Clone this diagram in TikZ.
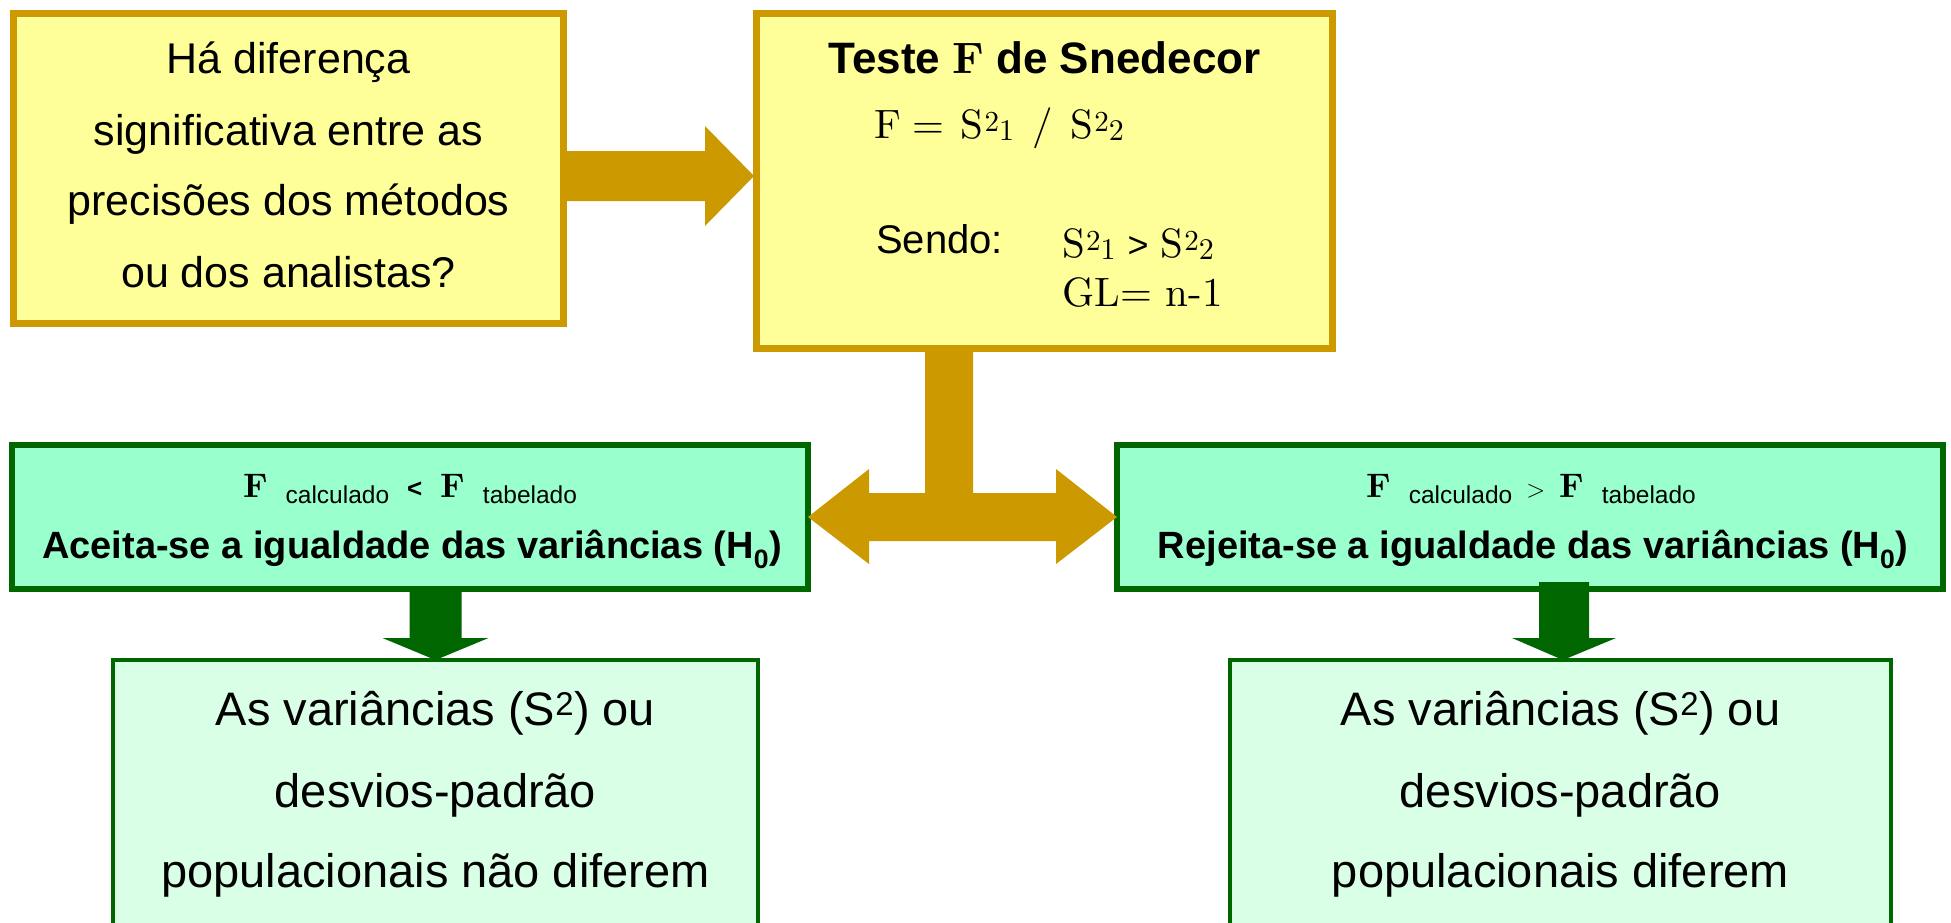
\documentclass[tikz,border=0pt]{standalone}
\usepackage{fontspec}
\newfontfamily\comic{Liberation Sans}
\newfontfamily\lmr{lmroman10-regular}[Extension=.otf,BoldFont=lmroman10-bold]
\usetikzlibrary{calc}
\definecolor{gold}{HTML}{CC9900}
\definecolor{lyellow}{HTML}{FFFF99}
\definecolor{lgreen}{HTML}{99FFCC}
\definecolor{dgreen}{HTML}{006600}
\definecolor{mint}{HTML}{D9FFE6}
\newcommand\Ssq[1]{S\hspace{1pt}\raisebox{7pt}{\fontsize{29}{29}\selectfont 2}\raisebox{-2pt}{\fontsize{30}{30}\selectfont #1}}
\newcommand\lmF{{\lmr\bfseries\fontsize{34}{34}\selectfont F}}
\newcommand\subw[1]{\raisebox{-6pt}{\comic\mdseries\fontsize{24.5}{24.5}\selectfont #1}}
\begin{document}
\begin{tikzpicture}[x=1pt,y=-1pt,
  ybox/.style={draw=gold,fill=lyellow,line width=7pt,inner sep=0pt,outer sep=0pt,rectangle},
  gbox/.style={draw=dgreen,fill=lgreen,line width=6pt,inner sep=0pt,outer sep=0pt,rectangle},
  mbox/.style={draw=dgreen,fill=mint,line width=4pt,inner sep=0pt,outer sep=0pt,rectangle},
  qtxt/.style={inner sep=0pt,anchor=base,font=\comic\fontsize{43}{43}\selectfont},
  gtxt/.style={inner sep=0pt,anchor=base,font=\comic\bfseries\fontsize{38}{38}\selectfont},
  ftxt/.style={inner sep=0pt,anchor=base},
  btxt/.style={inner sep=0pt,anchor=base,font=\comic\fontsize{47}{47}\selectfont},
  ttxt/.style={inner sep=0pt,anchor=base west,font=\lmr\fontsize{41}{41}\selectfont}]
\clip (0,0) rectangle (1951,922);
\fill[white] (0,0) rectangle (1951,922);

% boxes
\node[ybox,minimum width=550pt,minimum height=310pt] (q) at (288.5,168.5) {};
\node[ybox,minimum width=576pt,minimum height=335pt] (t) at (1044.5,181) {};
\node[gbox,minimum width=796pt,minimum height=144pt] (lg) at (410,517) {};
\node[gbox,minimum width=826pt,minimum height=144pt] (rg) at (1530,517) {};
\node[mbox,minimum width=645pt,minimum height=340pt] (lb) at (435.5,830) {};
\node[mbox,minimum width=661pt,minimum height=340pt] (rb) at (1560.5,830) {};

% block arrows
\fill[gold] ($(q.east)+(0,-17.5)$) -- ++(141.5,0) -- ++(0,-25) -- ($(t.west)+(-2.5,-5)$)
  -- ($(q.east)+(141.5,57.5)$) -- ++(0,-25) -- ($(q.east)+(0,32.5)$) -- cycle;
\fill[gold] ($(t.south)+(-119.5,0)$) -- ++(48,0) -- ++(0,144.5) -- ++(83,0) -- ++(0,-24)
  -- (rg.west) -- ++(-61,47) -- ++(0,-23) -- ++(-187,0) -- ++(0,23)
  -- (lg.east) -- ++(61,-48) -- ++(0,24) -- ++(56,0) -- cycle;
\fill[dgreen] (lb.north) -- ++(53,-22) -- ++(-27,0) -- ++(0,-49) -- ++(-52,0) -- ++(0,49) -- ++(-27,0) -- cycle;
\fill[dgreen] ($(rb.north)+(2.5,0)$) -- ++(53,-22) -- ++(-27,0) -- ++(0,-56) -- ++(-50,0) -- ++(0,56) -- ++(-27,0) -- cycle;

% question box text
\node[qtxt] (q1) at (288.5,73) {Há diferença};
\node[qtxt] (q2) at (288.5,145) {significativa entre as};
\node[qtxt] (q3) at (288.5,215) {precisões dos métodos};
\node[qtxt] (q4) at (288.5,287) {ou dos analistas?};

% test box text
\node[ftxt,font=\comic\bfseries\fontsize{44}{44}\selectfont] (t1) at (1044.5,73) {Teste {\lmr F} de Snedecor};
\node[ttxt] (t2) at (874,138) {F\hspace{12pt}=\hspace{16pt}\Ssq{1}\hspace{18pt}/\hspace{18pt}\Ssq{2}};
\node[ttxt,font=\comic\fontsize{40}{40}\selectfont] (t3) at (876,253) {Sendo:};
\node[ttxt] (t4) at (1062,257) {\Ssq{1}\hspace{12pt}{\comic\fontsize{36}{36}\selectfont >}\hspace{12pt}\Ssq{2}};
\node[ttxt] (t5) at (1062,306) {GL= n-1};

% green boxes text
\node[ftxt] (l1) at (410,497) {\lmF\hspace{18pt}\subw{calculado}\hspace{18pt}{\comic\bfseries\fontsize{26}{26}\selectfont <}\hspace{18pt}\lmF\hspace{18pt}\subw{tabelado}};
\node[gtxt] (l2) at (412,558) {Aceita-se a igualdade das variâncias (H\textsubscript{0})};
\node[ftxt] (r1) at (1531,497) {\lmF\hspace{18pt}\subw{calculado}\hspace{14pt}{\fontsize{28}{28}\selectfont$>$}\hspace{14pt}\lmF\hspace{18pt}\subw{tabelado}};
\node[gtxt] (r2) at (1533,558) {Rejeita-se a igualdade das variâncias (H\textsubscript{0})};

% bottom boxes text
\node[btxt] (b1) at (435.5,725) {As variâncias (S\textsuperscript{2}) ou};
\node[btxt] (b2) at (435.5,807) {desvios-padrão};
\node[btxt] (b3) at (435.5,887) {populacionais não diferem};
\node[btxt] (c1) at (1560.5,725) {As variâncias (S\textsuperscript{2}) ou};
\node[btxt] (c2) at (1560.5,807) {desvios-padrão};
\node[btxt] (c3) at (1560.5,887) {populacionais diferem};
\end{tikzpicture}
\end{document}
